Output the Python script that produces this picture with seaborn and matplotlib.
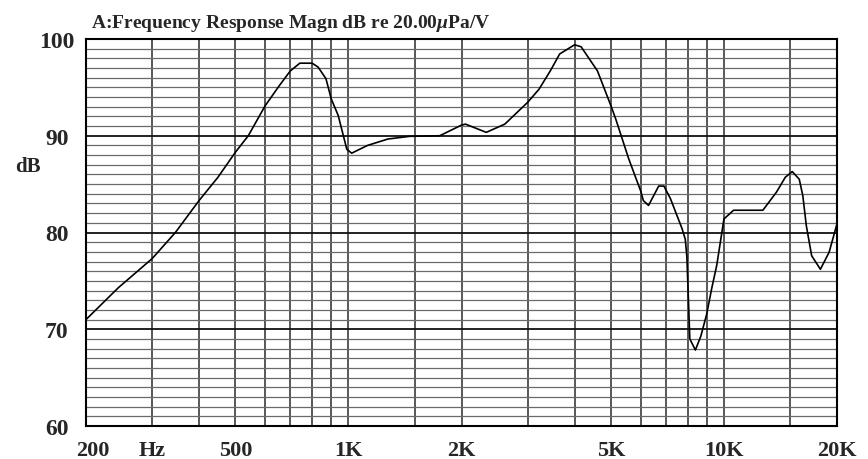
import numpy as np
import matplotlib
matplotlib.use("Agg")
import matplotlib.pyplot as plt
import matplotlib.transforms as mtransforms
from matplotlib.ticker import NullFormatter
import seaborn as sns

# frequency response
freq_hz = [200, 244, 300, 346, 400, 449, 500, 541, 600, 655, 700, 742, 800, 830,
           871, 900, 939, 990, 1020, 1124, 1273, 1454, 1750, 2000, 2050, 2328,
           2608, 3000, 3216, 3447, 3651, 4000, 4164, 4604, 5000, 5153, 5578,
           6000, 6100, 6297, 6702, 6920, 7202, 7733, 7888, 7965, 8041, 8111,
           8392, 8680, 9000, 9274, 9566, 10000, 10606, 11424, 12696, 13813,
           14560, 15197, 15869, 16218, 16571, 17121, 18063, 19052, 20000]
level_db = [71.0, 74.3, 77.3, 80.0, 83.3, 85.7, 88.3, 90.0, 93.1, 95.2, 96.7, 97.5,
            97.5, 97.1, 95.9, 93.8, 92.1, 88.6, 88.2, 89.0, 89.66, 89.94, 90.0,
            91.1, 91.2, 90.35, 91.2, 93.45, 94.8, 96.7, 98.45, 99.4, 99.2, 96.7,
            93.1, 91.7, 87.6, 84.3, 83.3, 82.8, 84.8, 84.8, 83.5, 80.4, 79.3,
            77.5, 73.1, 69.0, 67.85, 69.3, 71.6, 74.2, 76.6, 81.4, 82.3, 82.3,
            82.3, 84.2, 85.7, 86.3, 85.5, 83.8, 80.7, 77.6, 76.2, 77.95, 80.9]

x_label_freqs = [200, 300, 500, 1000, 2000, 5000, 10000, 20000]
x_label_text = ['200', 'Hz', '500', '1K', '2K', '5K', '10K', '20K']
x_grid_freqs = [400, 600, 700, 800, 900, 1500, 3000, 4000, 6000, 7000, 8000,
                9000, 15000]
y_major = [60, 70, 80, 90, 100]

sns.set_style("white")
plt.rcParams['font.family'] = ['Liberation Serif', 'DejaVu Serif']
plt.rcParams['font.weight'] = 'bold'
plt.rcParams['mathtext.fontset'] = 'custom'
plt.rcParams['mathtext.it'] = 'Liberation Serif:italic:bold'
plt.rcParams['mathtext.rm'] = 'Liberation Serif:bold'

fig, ax = plt.subplots(figsize=(8.68, 4.6), dpi=100)
fig.subplots_adjust(left=86 / 868, right=837 / 868, top=1 - 40 / 460, bottom=1 - 427 / 460)

sns.lineplot(x=freq_hz, y=level_db, color='black', linewidth=1.2, ax=ax)

ax.set_xscale('log')
ax.set_xlim(200, 20000)
ax.set_ylim(60, 100)
ax.set_xticks(x_label_freqs)
ax.set_xticklabels(x_label_text)
ax.set_xticks(x_grid_freqs, minor=True)
ax.xaxis.set_minor_formatter(NullFormatter())
ax.set_yticks(y_major)
ax.set_yticks(np.arange(60, 101, 1), minor=True)
ax.set_xlabel('')
ax.set_ylabel('')

ax.grid(True, which='both', axis='x', color='#2a2a2a', linewidth=1.1)
ax.grid(True, which='minor', axis='y', color='#6a6a6a', linewidth=0.9)
ax.grid(True, which='major', axis='y', color='#111111', linewidth=1.3)
ax.set_axisbelow(True)

ax.tick_params(axis='both', which='both', length=0)
ax.tick_params(axis='x', pad=10, labelsize=16)
ax.tick_params(axis='y', pad=21, labelsize=17)
for lab in ax.get_yticklabels():
    lab.set_horizontalalignment('center')
# first label sits a little inside the frame, as in the original
first = ax.get_xticklabels()[0]
first.set_transform(first.get_transform() +
                    mtransforms.ScaledTranslation(0.07, 0, fig.dpi_scale_trans))
for sp in ax.spines.values():
    sp.set_color('black')
    sp.set_linewidth(1.5)

fig.text(91 / 868, 1 - 28 / 460, r'A:Frequency Response Magn dB re 20.00$\mu$Pa/V',
         fontsize=14, fontweight='bold', ha='left', va='baseline')
fig.text(28 / 868, 1 - 167 / 460, 'dB', fontsize=15, fontweight='bold',
         ha='center', va='center')

fig.savefig('out.png', dpi=100)
